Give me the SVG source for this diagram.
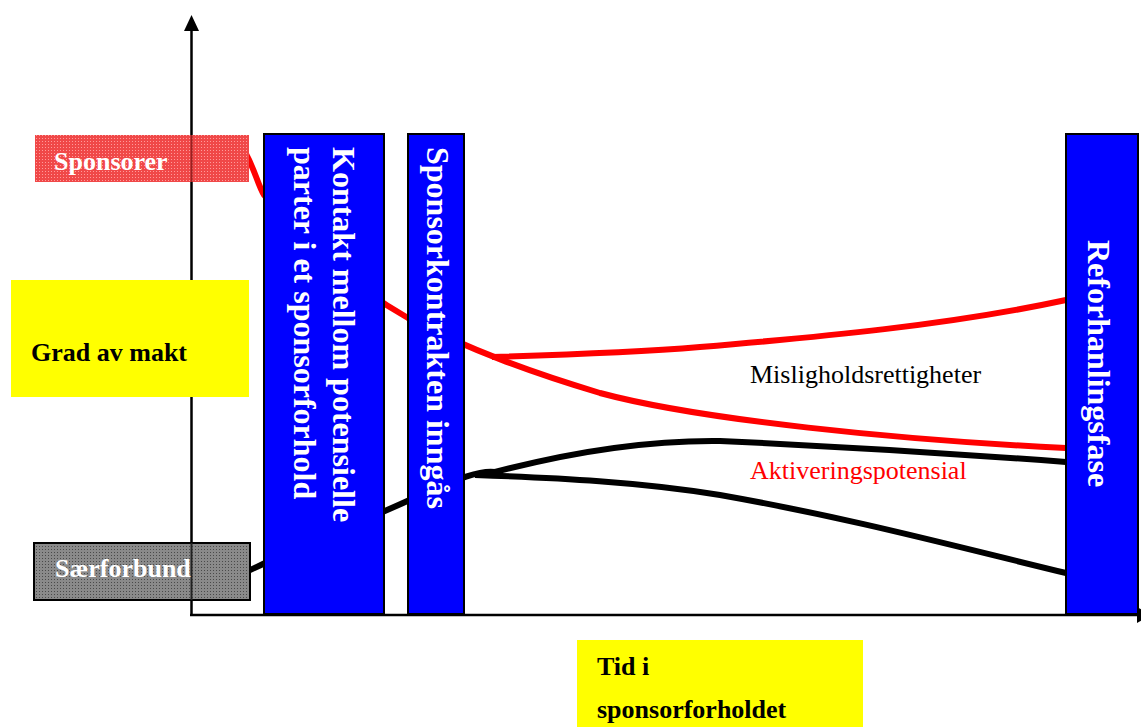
<svg xmlns="http://www.w3.org/2000/svg" width="1141" height="727" viewBox="0 0 1141 727">
<style>
.bold{font-family:"Liberation Serif","Times New Roman",serif;font-weight:bold}
.reg{font-family:"Liberation Serif","Times New Roman",serif}
.phase{fill:#0000ff;stroke:#000;stroke-width:2}
.vt{font-size:32px;fill:#fff}
.lbl{font-size:26px}
.red{fill:none;stroke:#ff0000;stroke-width:6}
.blk{fill:none;stroke:#000;stroke-width:6}
.axis{stroke:#000;stroke-width:2.5;fill:none}
</style>
<defs>
<pattern id="redpat" width="3" height="3" patternUnits="userSpaceOnUse">
<rect width="3" height="3" fill="#f04848"/>
<rect width="1" height="1" fill="#ff9a9a"/>
</pattern>
<pattern id="greypat" width="3" height="3" patternUnits="userSpaceOnUse">
<rect width="3" height="3" fill="#8a8a8a"/>
<rect width="1" height="1" fill="#4a4a4a"/>
</pattern>
</defs>

<g id="connectors">
<path class="red" d="M245,152 C255,170 258,185 264,195 C300,240 350,285 408,318 C470,350 530,372 600,393 C700,420 900,440 1066,448"/>
<path class="red" d="M492,357 C560,355 640,352 700,347 C820,337 950,325 1066,300"/>
<path class="blk" d="M240,575 C300,545 380,515 420,495 C460,478 480,470 495,472 C560,455 640,440 720,441 C850,447 960,454 1066,462"/>
<path class="blk" d="M475,475 C560,478 640,482 720,495 C850,518 950,545 1066,573"/>
</g>

<g id="y-axis">
<line class="axis" x1="191.5" y1="616" x2="191.5" y2="28"/>
<polygon points="191.5,15 184,31 199,31" fill="#000"/>
</g>
<g id="x-axis">
<line class="axis" x1="190" y1="615" x2="1141" y2="615"/>
<polygon points="1137,607 1152,615 1137,623" fill="#000"/>
</g>

<g id="sponsorer">
<rect x="35" y="135" width="214" height="47" fill="url(#redpat)"/>
<line x1="191.5" y1="135" x2="191.5" y2="182" stroke="#9a2020" stroke-width="2"/>
<text class="bold lbl" x="54" y="170" fill="#fff">Sponsorer</text>
</g>

<g id="grad-av-makt">
<rect x="11" y="280" width="238" height="117" fill="#ffff00"/>
<text class="bold lbl" x="31" y="361" fill="#000">Grad av makt</text>
</g>

<g id="saerforbund">
<rect x="34" y="543" width="216" height="57" fill="url(#greypat)" stroke="#000" stroke-width="2"/>
<line x1="191.5" y1="543" x2="191.5" y2="600" stroke="#222" stroke-width="2"/>
<text class="bold lbl" x="55" y="577" fill="#fff">Særforbund</text>
</g>

<g id="fase-kontakt">
<rect class="phase" x="264" y="134" width="120" height="480"/>
<text class="bold vt" transform="translate(333,147) rotate(90)">Kontakt mellom potensielle</text>
<text class="bold vt" transform="translate(294,147) rotate(90)">parter i et sponsorforhold</text>
</g>

<g id="fase-kontrakt">
<rect class="phase" x="408" y="134" width="56" height="480"/>
<text class="bold vt" transform="translate(427,147) rotate(90)">Sponsorkontrakten inngås</text>
</g>

<g id="fase-reforhandling">
<rect class="phase" x="1066" y="134" width="72" height="480"/>
<text class="bold vt" transform="translate(1088,240) rotate(90)">Reforhanlingsfase</text>
</g>

<g id="label-mislighold">
<text class="reg lbl" x="750" y="383" fill="#000">Misligholdsrettigheter</text>
</g>
<g id="label-aktivering">
<text class="reg lbl" x="750" y="479" fill="#ff0000">Aktiveringspotensial</text>
</g>

<g id="tid">
<rect x="577" y="640" width="286" height="87" fill="#ffff00"/>
<text class="bold lbl" x="597" y="675" fill="#000">Tid i</text>
<text class="bold lbl" x="597" y="718" fill="#000">sponsorforholdet</text>
</g>
</svg>
